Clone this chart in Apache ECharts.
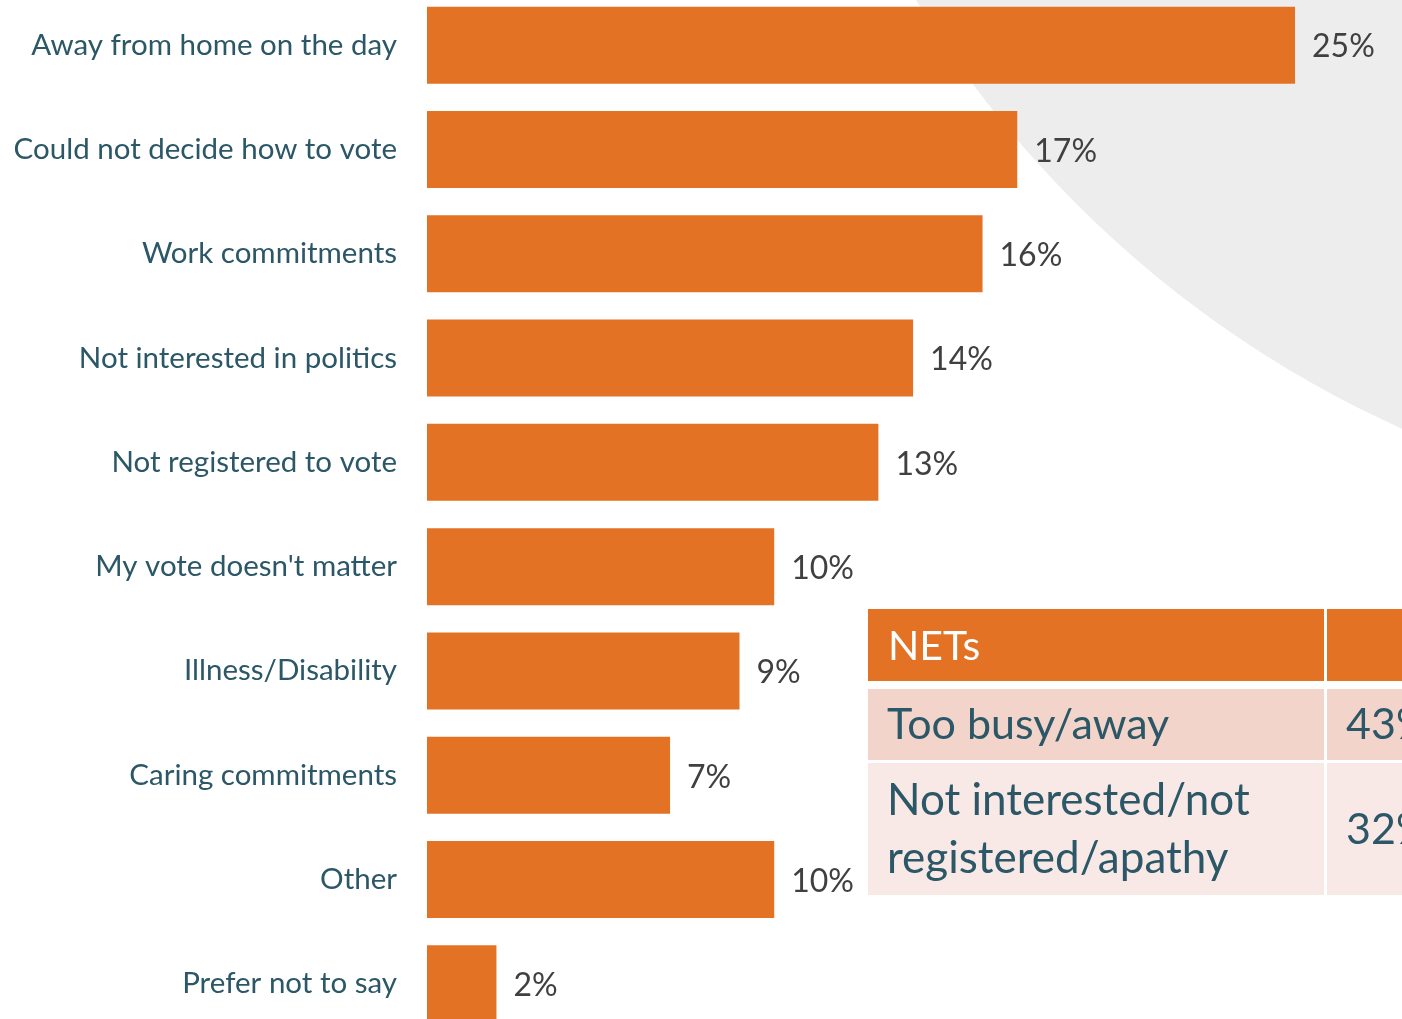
<!DOCTYPE html>
<html>
<head>
<meta charset="utf-8">
<script src="https://cdn.jsdelivr.net/npm/echarts@6/dist/echarts.min.js"></script>
<style>
html,body{margin:0;padding:0;background:#fff;}
#main{width:1402px;height:1019px;}
</style>
</head>
<body>
<div id="main"></div>
<script>
const categories = ["Away from home on the day","Could not decide how to vote","Work commitments","Not interested in politics","Not registered to vote","My vote doesn't matter","Illness/Disability","Caring commitments","Other","Prefer not to say"];
const values = [25,17,16,14,13,10,9,7,10,2];
const netHeader = "NETs";
const netLabels = ["Too busy/away","Not interested/not\nregistered/apathy"];
const netValues = ["43%","32%"];

const chart = echarts.init(document.getElementById('main'), null, {renderer:'canvas'});
const FONT = 'Lato';
const TEAL = '#2B5767';
const ORANGE = '#E37224';

const graphics = [
  {type:'circle', z:-10, shape:{cx:1851, cy:-570, r:1095}, style:{fill:'#EDEDED'}},
  // table header
  {type:'rect', z:100, shape:{x:868, y:609, width:456, height:72}, style:{fill:ORANGE}},
  {type:'rect', z:100, shape:{x:1327, y:609, width:80, height:72}, style:{fill:ORANGE}},
  {type:'text', z:101, x:888, y:647, style:{text:netHeader, fill:'#fff', font:'41px '+FONT, verticalAlign:'middle'}},
  // row 1
  {type:'rect', z:100, shape:{x:868, y:689, width:456, height:71}, style:{fill:'#F2D4CA'}},
  {type:'rect', z:100, shape:{x:1327, y:689, width:80, height:71}, style:{fill:'#F2D4CA'}},
  {type:'text', z:101, x:887, y:725, style:{text:netLabels[0], fill:TEAL, font:'43px '+FONT, verticalAlign:'middle'}},
  {type:'text', z:101, x:1346, y:725, style:{text:netValues[0], fill:TEAL, font:'43px '+FONT, verticalAlign:'middle'}},
  // row 2
  {type:'rect', z:100, shape:{x:868, y:763, width:456, height:132}, style:{fill:'#F9E9E6'}},
  {type:'rect', z:100, shape:{x:1327, y:763, width:80, height:132}, style:{fill:'#F9E9E6'}},
  {type:'text', z:101, x:887, y:830, style:{text:netLabels[1], fill:TEAL, font:'44px '+FONT, lineHeight:58, verticalAlign:'middle'}},
  {type:'text', z:101, x:1346, y:830, style:{text:netValues[1], fill:TEAL, font:'43px '+FONT, verticalAlign:'middle'}}
];

chart.setOption({
  animation:false,
  backgroundColor:'#fff',
  grid:{left:427, top:-7, width:972.2, height:1043, containLabel:false, outerBoundsMode:'none'},
  xAxis:{type:'value', min:0, max:28, show:false, splitLine:{show:false}},
  yAxis:{
    type:'category', data:categories, inverse:true,
    axisLine:{show:false}, axisTick:{show:false},
    axisLabel:{margin:30, color:TEAL, fontFamily:FONT, fontSize:29.5}
  },
  series:[{
    type:'bar', data:values, barWidth:77,
    itemStyle:{color:ORANGE},
    label:{show:true, position:'right', distance:17, offset:[0,2], formatter:'{c}%', color:'#404040', fontFamily:FONT, fontSize:32}
  }],
  graphic:graphics
});
</script>
</body>
</html>
